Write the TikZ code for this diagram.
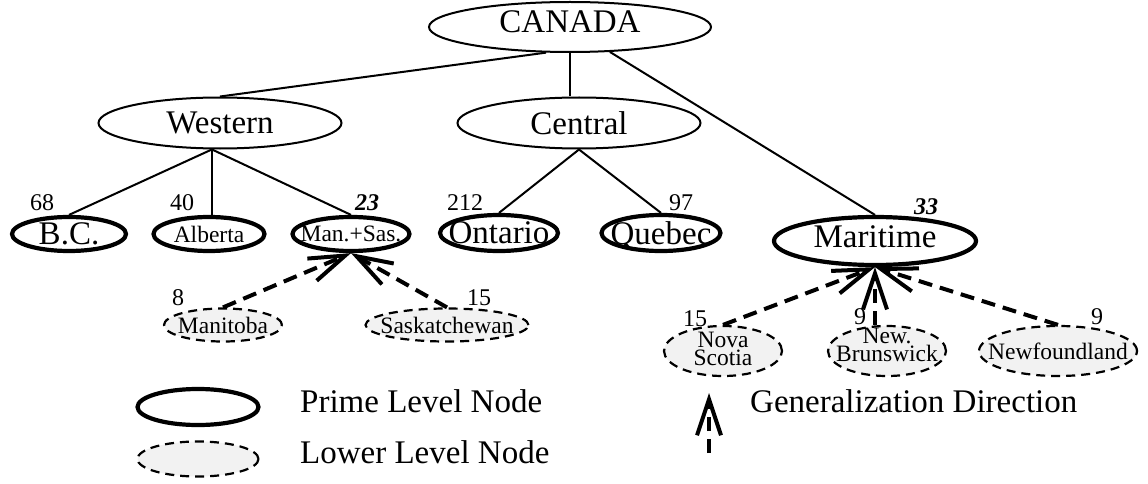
\documentclass[tikz,border=0pt]{standalone}
\usepackage{fontspec}
\setmainfont{Liberation Serif}
\usetikzlibrary{arrows.meta,shapes.geometric}
\definecolor{lowgray}{RGB}{242,242,242}
\tikzset{
  bigtext/.style={font=\fontsize{33}{33}\selectfont, inner sep=0pt, text depth=0pt},
  smalltext/.style={font=\fontsize{23.5}{23.5}\selectfont, inner sep=0pt, text depth=0pt},
  numtext/.style={font=\fontsize{24}{24}\selectfont, inner sep=0pt},
  regionnode/.style 2 args={ellipse, draw, line width=2pt, inner sep=0pt, minimum width=#1, minimum height=#2},
  primenode/.style 2 args={ellipse, draw, line width=4.2pt, inner sep=0pt, minimum width=#1, minimum height=#2},
  lowernode/.style 2 args={ellipse, draw, fill=lowgray, line width=2.2pt, dash pattern=on 9pt off 6pt, inner sep=0pt, minimum width=#1, minimum height=#2},
  link/.style={line width=2pt},
  genarrow/.style={line width=4pt, dash pattern=on 14pt off 8pt, -{Straight Barb[length=36pt,width=24pt]}},
}

\begin{document}
\begin{tikzpicture}[x=1pt,y=-1pt]
\useasboundingbox (0,0) rectangle (1148,484);
% Top levels
\node[regionnode={282pt}{50pt}] (canada) at (570,27) {};
\node[bigtext] (canadatext) at ([yshift=5pt]canada.center) {CANADA};
\node[regionnode={243pt}{51pt}] (western) at (220,123) {};
\node[bigtext] (westerntext) at (western) {Western};
\node[regionnode={243pt}{51pt}] (central) at (579,123) {};
\node[bigtext] (centraltext) at (central) {Central};
% Prime level nodes
\node[primenode={114pt}{34pt}] (bc) at (69,234) {};
\node[bigtext] (bctext) at (bc) {B.C.};
\node[primenode={111pt}{34pt}] (alberta) at (209,234) {};
\node[smalltext] (albertatext) at (alberta) {Alberta};
\node[primenode={117pt}{34pt}] (mansas) at (351,234) {};
\node[smalltext] (mansastext) at (mansas) {Man.+Sas.};
\node[primenode={118pt}{36pt}] (ontario) at (499,233) {};
\node[bigtext] (ontariotext) at (ontario) {Ontario};
\node[primenode={119pt}{36pt}] (quebec) at (661,233) {};
\node[bigtext] (quebectext) at (quebec) {Quebec};
\node[primenode={202pt}{48pt}] (maritime) at (875,241) {};
\node[bigtext] (maritimetext) at ([yshift=4pt]maritime.center) {Maritime};
% Lower level nodes
\node[lowernode={118pt}{33pt}] (manitoba) at (223,325) {};
\node[smalltext] (manitobatext) at (manitoba) {Manitoba};
\node[lowernode={163pt}{33pt}] (sask) at (447,325) {};
\node[smalltext] (sasktext) at (sask) {Saskatchewan};
\node[lowernode={118pt}{50pt}] (nova) at (723,351) {};
\node[smalltext, align=center, font=\fontsize{23.5}{18.5}\selectfont] (novatext) at ([yshift=2pt]nova.center) {Nova\\Scotia};
\node[lowernode={118pt}{50pt}] (nb) at (887,351) {};
\node[smalltext, align=center, font=\fontsize{23.5}{15}\selectfont] (nbtext) at ([yshift=6pt]nb.center) {New.\\Brunswick};
\node[lowernode={158pt}{50pt}] (nf) at (1058,351) {};
\node[smalltext] (nftext) at (nf) {Newfoundland};
% Counts
\node[numtext] (n68) at (42,203) {68};
\node[numtext] (n40) at (182,203) {40};
\node[numtext] (n23) at (367,203) {\bfseries\itshape 23};
\node[numtext] (n212) at (465,203) {212};
\node[numtext] (n97) at (681,203) {97};
\node[numtext] (n33) at (926,207) {\bfseries\itshape 33};
\node[numtext] (n8) at (178,298) {8};
\node[numtext] (n15a) at (479,298) {15};
\node[numtext] (n15b) at (695,319) {15};
\node[numtext] (n9a) at (860,317) {9};
\node[numtext] (n9b) at (1097,317) {9};
% Tree links
\draw[link] (canada.227) -- (western.north);
\draw[link] (canada.south) -- (canada.south |- central.north);
\draw[link] (canada.328) -- (maritime.north);
\draw[link] (western.253) -- (bc.north);
\draw[link] (western.253) -- (western.253 |- alberta.north);
\draw[link] (western.253) -- (mansas.north);
\draw[link] (central.south) -- (ontario.north);
\draw[link] (central.south) -- (quebec.north);
% Generalization arrows
\draw[genarrow] (manitoba.north) -- (mansas.south);
\draw[genarrow] (sask.north) -- (mansas.south);
\draw[genarrow] (nova.north) -- (maritime.south);
\draw[genarrow] (nb.north -| maritime.south) -- (maritime.south);
\draw[genarrow] (nf.north) -- (maritime.south);
% Legend
\node[primenode={121pt}{36pt}] (legprime) at (198,407) {};
\node[lowernode={121pt}{35pt}] (leglower) at (198,459) {};
\node[bigtext, anchor=west] (legprimetext) at (300,401) {Prime Level Node};
\node[bigtext, anchor=west] (leglowertext) at (300,452) {Lower Level Node};
\coordinate (legtail) at (709,453);
\coordinate (legtip) at (709,393);
\draw[genarrow] (legtail) -- (legtip);
\node[bigtext, anchor=west] (leggentext) at (750,401) {Generalization Direction};
\end{tikzpicture}
\end{document}
